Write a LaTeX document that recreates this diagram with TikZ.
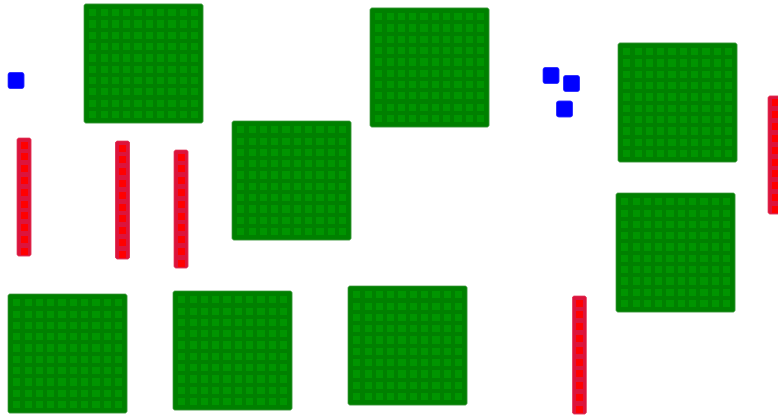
\documentclass[tikz,border=0pt]{standalone}
\definecolor{flatout}{RGB}{0,128,0}
\definecolor{flatin}{RGB}{0,148,0}
\definecolor{flatedge}{RGB}{60,150,60}
\definecolor{rodout}{RGB}{220,20,60}
\definecolor{rodin}{RGB}{255,0,0}
\definecolor{unitblue}{RGB}{0,0,255}
\tikzset{
  flatbox/.style={fill=flatout,draw=flatedge,line width=0.6pt,rounded corners=1.5pt},
  flatcell/.style={fill=flatin},
  rodbox/.style={fill=rodout,draw=rodout!85!white,line width=0.6pt,rounded corners=1.5pt},
  rodcell/.style={fill=rodin},
  unitbox/.style={fill=unitblue,draw=unitblue!80!white,line width=0.6pt,rounded corners=2pt},
  flat/.pic={
    \path[flatbox] (0,0) rectangle (119,119);
    \foreach \i in {0,...,9}{\foreach \j in {0,...,9}{
      \path[flatcell] ({5.2+\i*11.3},{5.2+\j*11.3}) rectangle ++(7.2,7.2);}}
  },
  rod/.pic={
    \path[rodbox] (0,0) rectangle (14,118);
    \foreach \j in {0,...,9}{
      \path[rodcell] (3.5,{3.5+\j*11.8}) rectangle ++(7,7);}
  },
  unit/.pic={
    \path[unitbox] (0,0) rectangle (16,16);
  }
}
\begin{document}
\begin{tikzpicture}[x=1pt,y=-1pt]
\path[use as bounding box] (0,0) rectangle (778,417);
\begin{scope}
\clip (0,0) rectangle (778,417);
% flats
\pic at (84,4) {flat};
\pic at (370,8) {flat};
\pic at (232,121) {flat};
\pic at (618,43) {flat};
\pic at (616,193) {flat};
\pic at (8,294) {flat};
\pic at (173,291) {flat};
\pic at (348,286) {flat};
% rods
\pic at (17,138) {rod};
\pic at (115.5,141) {rod};
\pic at (174,150) {rod};
\pic at (768,96) {rod};
\pic at (572.3,296) {rod};
% units
\pic at (8,72.5) {unit};
\pic at (543,67.5) {unit};
\pic at (563.5,75.5) {unit};
\pic at (556.5,101) {unit};
\end{scope}
\end{tikzpicture}
\end{document}
